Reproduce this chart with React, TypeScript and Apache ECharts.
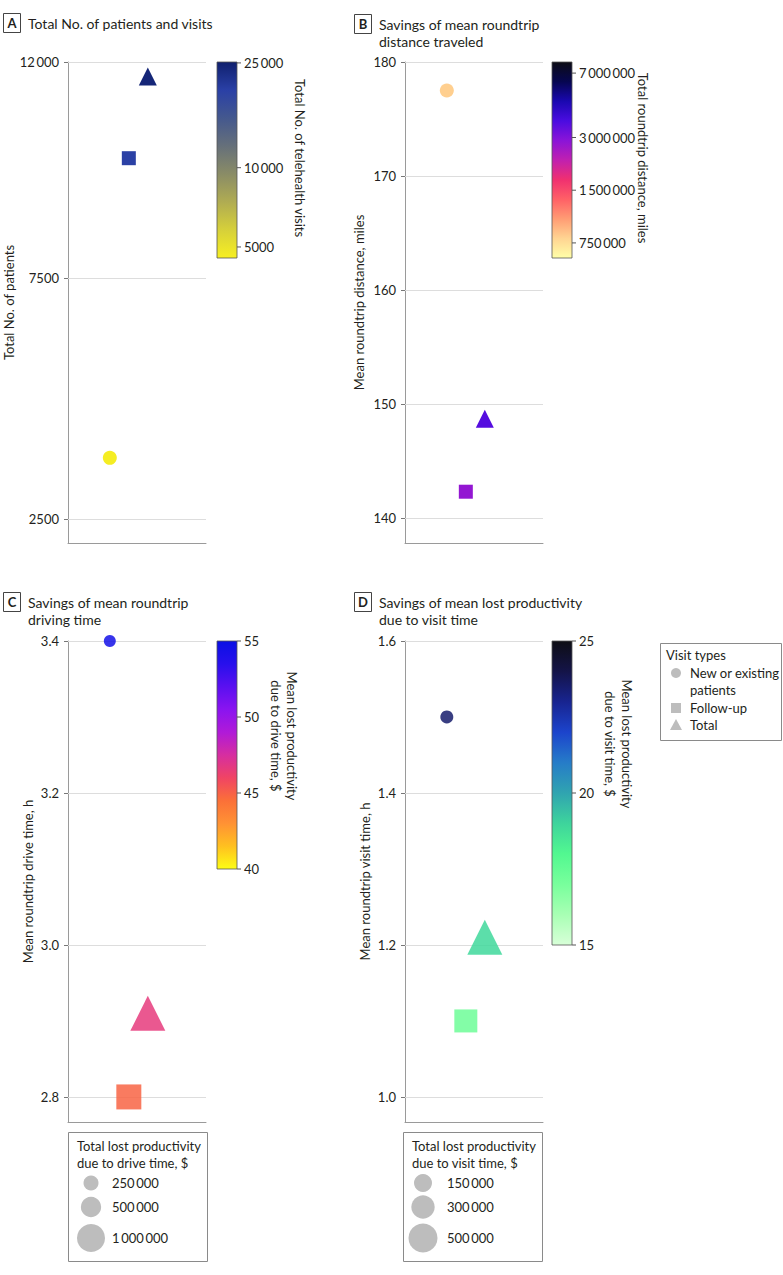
import React, { useEffect, useRef } from 'react';
import * as echarts from 'echarts';

// ---------- data ----------
const visitTypes = ['New or existing patients', 'Follow-up', 'Total'];
const markerShapes = ['circle', 'rect', 'triangle'];

// Panel A
const totalPatients = [3770, 10000, 11700];
const telehealthVisits = [4600, 19500, 24100];
const patientTicks = [2500, 7500, 12000];
const visitColorTicks = [5000, 10000, 25000];

// Panel B
const meanDistance = [177.5, 142.3, 148.7];
const totalDistance = [816000, 2770000, 3580000];
const distanceTicks = [140, 150, 160, 170, 180];
const distanceColorTicks = [750000, 1500000, 3000000, 7000000];

// Panel C
const meanDriveTime = [3.4, 2.8, 2.91];
const meanDriveLost = [54.5, 44.9, 46.6];
const totalDriveLost = [141000, 786000, 1590000];
const driveTimeTicks = [2.8, 3.0, 3.2, 3.4];
const driveLostColorTicks = [40, 45, 50, 55];
const driveLostSizeTicks = [250000, 500000, 1000000];

// Panel D
const meanVisitTime = [1.5, 1.1, 1.21];
const meanVisitLost = [23.5, 17.3, 18.9];
const totalVisitLost = [45000, 289000, 760000];
const visitTimeTicks = [1.0, 1.2, 1.4, 1.6];
const visitLostColorTicks = [15, 20, 25];
const visitLostSizeTicks = [150000, 300000, 500000];

// ---------- colour scales ----------
const stopsA = ['#f7ef22', '#d6d03a', '#b0ac52', '#8a8c66', '#66707a', '#44588e', '#2a40a6', '#10206e'];
const stopsB = ['#ffffa8', '#ffd492', '#ff9c74', '#ff6066', '#f03070', '#c020b0', '#8a14d8', '#4a0ce0', '#1a08b0', '#060650', '#0c0c14'];
const stopsC = ['#fdfd14', '#ffc020', '#ff9234', '#fb7038', '#f04464', '#d62ea0', '#b01ad8', '#8a14f0', '#5a10f0', '#2810ec', '#0a10e4'];
const stopsD = ['#d8ffd8', '#a8ffb4', '#78ff9c', '#52f890', '#3ed49c', '#30a4b0', '#267cc8', '#1c44cc', '#182490', '#141448', '#0e0e14'];

const FONT = 'Lato, "Noto Sans", sans-serif';
const TXT = '#231f20';
const AXIS = '#9a9a9a';
const GRIDLINE = '#dddddd';
const LEG_GREY = '#bdbdbd';

const fmtNum = (v: number) => {
  const s = String(Math.round(v));
  if (s.length <= 4) return s;
  return s.replace(/\B(?=(\d{3})+(?!\d))/g, '\u2009');
};
const fmt1 = (v: number) => v.toFixed(1);
const log10 = (v: number) => Math.log10(v);
const ident = (v: number) => v;

const sizeC = (v: number) => Math.sqrt(39 + 0.000745 * v);
const sizeD = (v: number) => Math.sqrt(102 + 0.001477 * v);
const fixedSizes = [14, 14, 18];

type Panel = {
  grid: { left: number; top: number; width: number; height: number };
  ys: number[];
  cs: number[];
  ss: number[] | null;
  sizeFn: ((v: number) => number) | null;
  yMin: number;
  yMax: number;
  ticks: number[];
  tickFmt: (v: number) => string;
  yName: string;
  nameGap: number;
  cScale: (v: number) => number;
  cLo: number;
  cHi: number;
  stops: string[];
  opacity: number;
  bar: { x: number; y: number; w: number; h: number };
  barTicks: number[];
  barFmt: (v: number) => string;
  barTitle: string[];
  barTitleX: number[];
  barTitleY: number;
};

const panels: Panel[] = [
  {
    grid: { left: 68, top: 62, width: 138, height: 481 },
    ys: totalPatients, cs: telehealthVisits, ss: null, sizeFn: null,
    yMin: 2000, yMax: 12000, ticks: patientTicks, tickFmt: fmtNum,
    yName: 'Total No. of patients', nameGap: 52,
    cScale: log10, cLo: 4540, cHi: 25200, stops: stopsA, opacity: 1,
    bar: { x: 217, y: 62, w: 20, h: 196 }, barTicks: visitColorTicks, barFmt: fmtNum,
    barTitle: ['Total No. of telehealth visits'], barTitleX: [300], barTitleY: 158,
  },
  {
    grid: { left: 405, top: 62, width: 138, height: 481 },
    ys: meanDistance, cs: totalDistance, ss: null, sizeFn: null,
    yMin: 137.8, yMax: 180, ticks: distanceTicks, tickFmt: fmtNum,
    yName: 'Mean roundtrip distance, miles', nameGap: 40,
    cScale: log10, cLo: 615000, cHi: 8100000, stops: stopsB, opacity: 1,
    bar: { x: 552, y: 62, w: 20, h: 196 }, barTicks: distanceColorTicks, barFmt: fmtNum,
    barTitle: ['Total roundtrip distance, miles'], barTitleX: [643], barTitleY: 158,
  },
  {
    grid: { left: 68, top: 641, width: 138, height: 481 },
    ys: meanDriveTime, cs: meanDriveLost, ss: totalDriveLost, sizeFn: sizeC,
    yMin: 2.767, yMax: 3.4, ticks: driveTimeTicks, tickFmt: fmt1,
    yName: 'Mean roundtrip drive time, h', nameGap: 34,
    cScale: ident, cLo: 40, cHi: 55, stops: stopsC, opacity: 0.85,
    bar: { x: 217, y: 641, w: 20, h: 228 }, barTicks: driveLostColorTicks, barFmt: fmtNum,
    barTitle: ['Mean lost productivity', 'due to drive time, $'], barTitleX: [292, 276], barTitleY: 736,
  },
  {
    grid: { left: 405, top: 641, width: 138, height: 481 },
    ys: meanVisitTime, cs: meanVisitLost, ss: totalVisitLost, sizeFn: sizeD,
    yMin: 0.967, yMax: 1.6, ticks: visitTimeTicks, tickFmt: fmt1,
    yName: 'Mean roundtrip visit time, h', nameGap: 34,
    cScale: ident, cLo: 15, cHi: 25, stops: stopsD, opacity: 0.85,
    bar: { x: 552, y: 641, w: 20, h: 304 }, barTicks: visitLostColorTicks, barFmt: fmtNum,
    barTitle: ['Mean lost productivity', 'due to visit time, $'], barTitleX: [627, 610], barTitleY: 744,
  },
];

const panelTitles = [
  { letter: 'A', x: 3, lines: ['Total No. of patients and visits'], y: 23 },
  { letter: 'B', x: 354, lines: ['Savings of mean roundtrip', 'distance traveled'], y: 24 },
  { letter: 'C', x: 3, lines: ['Savings of mean roundtrip', 'driving time'], y: 602 },
  { letter: 'D', x: 354, lines: ['Savings of mean lost productivity', 'due to visit time'], y: 602 },
];

const sizeLegends = [
  { x: 68, y: 1132, title: ['Total lost productivity', 'due to drive time, $'], ticks: driveLostSizeTicks, fn: sizeC, cx: 91, lx: 112 },
  { x: 403, y: 1132, title: ['Total lost productivity', 'due to visit time, $'], ticks: visitLostSizeTicks, fn: sizeD, cx: 423, lx: 447 },
];

function txt(text: string, x: number, y: number, opts: any = {}) {
  return {
    type: 'text', x, y, rotation: opts.rotation || 0, silent: true, z: 10,
    style: {
      text, fill: TXT, fontFamily: FONT, fontSize: opts.size || 13,
      fontWeight: opts.weight || 'normal',
      textAlign: opts.align || 'left', textVerticalAlign: 'middle',
    },
  };
}

function buildGraphics() {
  const g: any[] = [];
  // panel titles
  panelTitles.forEach((p) => {
    g.push({ type: 'rect', shape: { x: p.x + 0.5, y: p.y - 9.5, width: 17, height: 19 }, style: { fill: '#fff', stroke: '#444', lineWidth: 1 }, silent: true });
    g.push(txt(p.letter, p.x + 9, p.y, { align: 'center', weight: 'bold', size: 13 }));
    p.lines.forEach((l, i) => g.push(txt(l, p.x + 25, p.y + i * 17, { size: 14 })));
  });
  // colour bars
  panels.forEach((p) => {
    const b = p.bar;
    const n = p.stops.length;
    const colorStops = p.stops.map((c, i) => ({ offset: 1 - i / (n - 1), color: c })).reverse();
    g.push({
      type: 'rect', shape: { x: b.x, y: b.y, width: b.w, height: b.h }, silent: true,
      style: { fill: { type: 'linear', x: 0, y: 0, x2: 0, y2: 1, colorStops }, stroke: '#555', lineWidth: 0.8 },
    });
    const lo = p.cScale(p.cLo), hi = p.cScale(p.cHi);
    p.barTicks.forEach((v) => {
      const t = (p.cScale(v) - lo) / (hi - lo);
      const yy = b.y + (1 - t) * b.h;
      g.push({ type: 'line', shape: { x1: b.x + b.w, y1: yy, x2: b.x + b.w + 4, y2: yy }, style: { stroke: '#555', lineWidth: 1 }, silent: true });
      g.push(txt(p.barFmt(v), b.x + b.w + 7, yy));
    });
    p.barTitle.forEach((l, i) => g.push(txt(l, p.barTitleX[i], p.barTitleY, { align: 'center', rotation: -Math.PI / 2 })));
  });
  // visit type legend
  const lx = 660.5, ly = 643.5;
  g.push({ type: 'rect', shape: { x: lx, y: ly, width: 121, height: 97 }, style: { fill: '#fff', stroke: '#8a8a8a', lineWidth: 1 }, silent: true });
  g.push(txt('Visit types', 666, 655));
  g.push({ type: 'circle', shape: { cx: 676, cy: 673, r: 5 }, style: { fill: LEG_GREY }, silent: true });
  g.push(txt('New or existing', 690, 673));
  g.push(txt('patients', 690, 690));
  g.push({ type: 'rect', shape: { x: 671, y: 703, width: 10, height: 10 }, style: { fill: LEG_GREY }, silent: true });
  g.push(txt('Follow-up', 690, 708));
  g.push({ type: 'polygon', shape: { points: [[676, 719], [682, 730], [670, 730]] }, style: { fill: LEG_GREY }, silent: true });
  g.push(txt('Total', 690, 725));
  // size legends
  sizeLegends.forEach((s) => {
    g.push({ type: 'rect', shape: { x: s.x + 0.5, y: s.y + 0.5, width: 139, height: 129 }, style: { fill: '#fff', stroke: '#8a8a8a', lineWidth: 1 }, silent: true });
    s.title.forEach((l, i) => g.push(txt(l, s.x + 9, s.y + 14 + i * 17)));
    const ys = [s.y + 51, s.y + 75, s.y + 106];
    s.ticks.forEach((v, i) => {
      g.push({ type: 'circle', shape: { cx: s.cx, cy: ys[i], r: s.fn(v) / 2 }, style: { fill: LEG_GREY }, silent: true });
      g.push(txt(fmtNum(v), s.lx, ys[i]));
    });
  });
  return g;
}

function buildOption() {
  return {
    animation: false,
    textStyle: { fontFamily: FONT },
    grid: panels.map((p) => ({ ...p.grid, containLabel: false })),
    xAxis: panels.map((p, k) => ({
      type: 'value', gridIndex: k, min: -2.2, max: 5.06,
      axisLine: { show: true, onZero: false, lineStyle: { color: AXIS, width: 1 } },
      axisTick: { show: false }, axisLabel: { show: false }, splitLine: { show: false },
    })),
    yAxis: panels.map((p, k) => ({
      type: 'value', gridIndex: k, min: p.yMin, max: p.yMax,
      name: p.yName, nameLocation: 'middle', nameGap: p.nameGap, nameRotate: 90,
      nameTextStyle: { color: TXT, fontSize: 13, fontFamily: FONT },
      axisLine: { show: true, onZero: false, lineStyle: { color: AXIS, width: 1 } },
      axisTick: { show: true, length: 4, customValues: p.ticks, lineStyle: { color: '#777' } },
      axisLabel: { customValues: p.ticks, formatter: p.tickFmt, color: TXT, fontSize: 13, fontFamily: FONT, margin: 9 },
      splitLine: { show: false },
    })),
    visualMap: panels.map((p, k) => ({
      type: 'continuous', show: false, seriesIndex: k, dimension: 2,
      min: p.cScale(p.cLo), max: p.cScale(p.cHi),
      inRange: { color: p.stops },
    })),
    series: panels.map((p, k) => ({
      type: 'scatter', xAxisIndex: k, yAxisIndex: k, z: 3,
      data: p.ys.map((y, i) => ({
        name: visitTypes[i],
        value: [i, y, p.cScale(p.cs[i]), p.ss ? p.ss[i] : 0],
        symbol: markerShapes[i],
      })),
      symbolSize: (val: number[], params: any) =>
        p.sizeFn ? p.sizeFn(val[3]) : fixedSizes[params.dataIndex],
      itemStyle: { opacity: p.opacity },
      markLine: {
        silent: true, symbol: 'none', z: 1, animation: false,
        label: { show: false },
        lineStyle: { color: GRIDLINE, width: 1, type: 'solid' },
        emphasis: { disabled: true },
        data: p.ticks.map((v) => ({ yAxis: v })),
      },
    })),
    graphic: { elements: buildGraphics() },
  };
}

export default function App() {
  const ref = useRef<HTMLDivElement>(null);
  useEffect(() => {
    document.body.style.margin = '0';
    const chart = echarts.init(ref.current as HTMLDivElement, null, { renderer: 'svg' });
    chart.setOption(buildOption() as any);
    return () => chart.dispose();
  }, []);
  return <div ref={ref} style={{ width: 783, height: 1275 }} />;
}
